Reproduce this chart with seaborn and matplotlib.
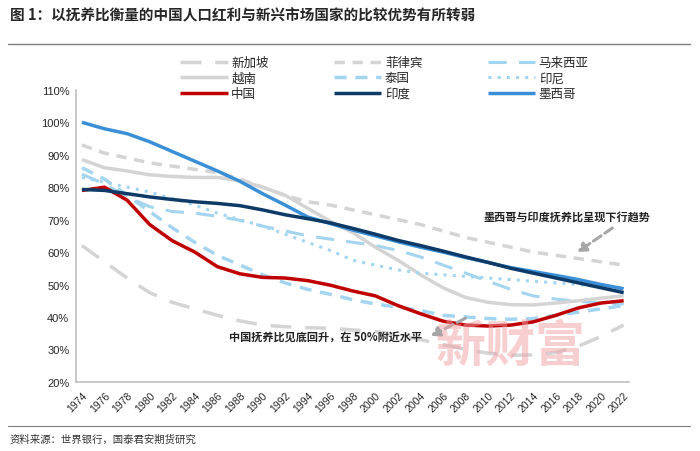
import numpy as np
import pandas as pd
import matplotlib
matplotlib.use("Agg")
import matplotlib.pyplot as plt
import seaborn as sns

sns.set_style("white")
plt.rcParams["font.family"] = ["Noto Sans CJK SC", "DejaVu Sans"]
plt.rcParams["axes.unicode_minus"] = False

# ── data: dependency ratio (%), every two years ───────────────
years = list(range(1974, 2023, 2))

singapore = [62, 57, 52, 47.5, 44.5, 42.5, 40.5, 38.8, 37.5, 37, 36.7, 36.5, 36,
             35.5, 34.5, 33, 31.5, 30, 28.8, 28.2, 28.3, 29, 31, 34, 37.5]
philippines = [93, 90.5, 89, 87.5, 86.5, 85.5, 84.5, 82.5, 80, 77.5, 75.5, 74.5, 73,
               71.5, 70, 68.5, 66.5, 64.5, 63, 61.5, 60, 59, 58, 57, 56]
malaysia = [84, 81, 77, 74, 72.5, 72, 71, 69.8, 68, 66.5, 65, 64, 63,
            62, 60.5, 58.5, 56, 53.5, 51, 48.5, 46.5, 45.5, 44.8, 44.3, 44]
vietnam = [88.5, 86, 85, 83.8, 83.3, 83, 83, 82, 80, 77.5, 73.5, 69.5, 66,
           61.5, 57.5, 53, 49, 46, 44.5, 43.8, 43.7, 44.3, 45, 45.8, 46.5]
thailand = [86, 82.5, 77.5, 72.5, 67.5, 63, 59, 56, 53, 50.5, 48.5, 47, 45.3,
            44, 43, 42, 40.5, 40, 39.5, 39.3, 39.5, 40.5, 41.5, 42.5, 43.5]
indonesia = [83, 81.5, 80, 78.5, 76.5, 74.5, 72, 70, 68, 65.5, 63, 60.5, 57.5,
             56, 54.5, 53.5, 53, 52.5, 52, 51.5, 51, 50.5, 50, 49.3, 48.5]
china = [79, 80, 76, 68.5, 63.5, 60, 55.5, 53.3, 52.2, 52, 51.2, 49.8, 48,
         46.5, 43.5, 41, 38.7, 37.5, 37.2, 37.5, 38.5, 40.5, 42.8, 44.3, 45]
india = [79.3, 79, 78, 77, 76.2, 75.5, 75, 74.3, 73, 71.5, 70.3, 69, 67.3,
         65.5, 63.6, 62, 60.3, 58.5, 56.8, 55, 53.5, 52, 50.5, 49, 47.5]
mexico = [100, 98, 96.5, 94, 91, 88, 85, 81.8, 78, 74.5, 70.8, 68.8, 66.8,
          65, 63.2, 61.5, 60, 58.3, 56.8, 55.2, 54, 52.8, 51.5, 50, 48.7]

names = ["新加坡", "菲律宾", "马来西亚", "越南", "泰国", "印尼", "中国", "印度", "墨西哥"]
series = [singapore, philippines, malaysia, vietnam, thailand, indonesia, china, india, mexico]

GRAY = "#d4d4d4"
LBLUE = "#a3d5f0"
styles = {
    "新加坡":   dict(color=GRAY, dashes=(6, 4), lw=2.5),
    "菲律宾":   dict(color=GRAY, dashes=(3, 2.2), lw=2.5),
    "马来西亚": dict(color=LBLUE, dashes=(6, 4), lw=2.2),
    "越南":     dict(color=GRAY, dashes=None, lw=2.5),
    "泰国":     dict(color=LBLUE, dashes=(3.5, 2.5), lw=2.5),
    "印尼":     dict(color=LBLUE, dashes=(1, 2), lw=2.2),
    "中国":     dict(color="#c00000", dashes=None, lw=2.5),
    "印度":     dict(color="#0d3a66", dashes=None, lw=2.5),
    "墨西哥":   dict(color="#3a8fd6", dashes=None, lw=2.5),
}

df = pd.DataFrame({"year": years})
for n, s in zip(names, series):
    df[n] = s

fig = plt.figure(figsize=(7, 4.52), dpi=100)
ax = fig.add_axes([0.109, 0.153, 0.790, 0.646])

handles = {}
draw_order = ["新加坡", "菲律宾", "马来西亚", "越南", "泰国", "印尼", "中国", "墨西哥", "印度"]
for n in draw_order:
    st = styles[n]
    sns.lineplot(data=df, x="year", y=n, ax=ax, color=st["color"], lw=st["lw"], label=n)
    line = ax.lines[-1]
    if st["dashes"] is not None:
        line.set_dashes(st["dashes"])
    line.set_solid_capstyle("butt")
    handles[n] = line

ax.set_xlim(1973.5, 2022.5)
ax.set_ylim(20, 110)
ax.set_xlabel("")
ax.set_ylabel("")

for sp in ["top", "right"]:
    ax.spines[sp].set_visible(False)
for sp in ["left", "bottom"]:
    ax.spines[sp].set_color("#bfbfbf")
    ax.spines[sp].set_linewidth(1.2)

ax.set_yticks(range(20, 111, 10))
ax.set_yticklabels([f"{v}%" for v in range(20, 111, 10)], fontsize=8,
                   family=["Liberation Sans", "DejaVu Sans"])
ax.tick_params(axis="y", length=3, color="#bfbfbf", direction="out", pad=2)

ax.set_xticks(years)
ax.set_xticklabels([str(y) for y in years], rotation=45, ha="right",
                   rotation_mode="anchor", fontsize=7.5,
                   family=["Liberation Sans", "DejaVu Sans"])
ax.set_xticks(np.arange(1973.5, 2023, 1), minor=True)
ax.tick_params(axis="x", which="major", length=0, pad=6)
ax.tick_params(axis="x", which="minor", length=3, color="#bfbfbf", direction="in")

# legend (3 columns, row-major reading order)
leg_order = ["新加坡", "越南", "中国", "菲律宾", "泰国", "印度", "马来西亚", "印尼", "墨西哥"]
ax.get_legend().remove()
fig.legend([handles[n] for n in leg_order], leg_order, ncol=3, frameon=False,
           loc="upper left", bbox_to_anchor=(0.25, 0.885), fontsize=9,
           handlelength=3.8, handletextpad=0.3, columnspacing=5.2,
           labelspacing=0.2, borderaxespad=0)

# annotations
ax.text(2017.0, 71.0, "墨西哥与印度抚养比呈现下行趋势", fontsize=8, ha="center",
        va="center", color="#222222", fontweight="bold", zorder=6)
ax.annotate("", xy=(2017.7, 59.5), xytext=(2021.2, 67.9),
            arrowprops=dict(arrowstyle="-|>,head_length=0.5,head_width=0.3",
                            color="#a6a6a6", lw=2.2, ls=(0, (3, 1.5))), zorder=6)
ax.text(1995.6, 34.1, "中国抚养比见底回升，在 50%附近水平", fontsize=8, ha="center",
        va="center", color="#222222", fontweight="bold", zorder=6)
ax.annotate("", xy=(2004.7, 33.8), xytext=(2008.2, 40.0),
            arrowprops=dict(arrowstyle="-|>,head_length=0.5,head_width=0.3",
                            color="#a6a6a6", lw=2.2, ls=(0, (3, 1.5))), zorder=6)

# watermark
ax.text(2012.0, 31.0, "新财富", fontsize=36, fontweight="bold", color="#f0a0a5",
        alpha=0.5, ha="center", va="center", zorder=7)

# title, rules and source
fig.text(0.014, 0.965, "图 1：以抚养比衡量的中国人口红利与新兴市场国家的比较优势有所转弱",
         fontsize=10.5, fontweight="bold", ha="left", va="center")
fig.add_artist(plt.Line2D([0.011, 0.986], [0.900, 0.900], color="#7f7f7f", lw=1))
fig.add_artist(plt.Line2D([0.011, 0.986], [0.056, 0.056], color="#7f7f7f", lw=0.8))
fig.text(0.014, 0.028, "资料来源：世界银行，国泰君安期货研究", fontsize=7.5,
         ha="left", va="center", color="#333333")

fig.savefig("out.png", dpi=100)
